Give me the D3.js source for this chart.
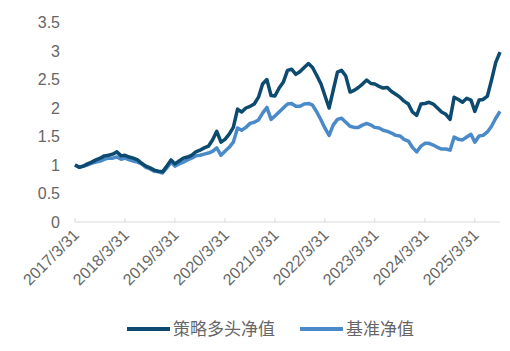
<!DOCTYPE html>
<html>
<head>
<meta charset="utf-8">
<script src="https://cdn.jsdelivr.net/npm/d3@7/dist/d3.min.js"></script>
<style>
  body { margin: 0; background: #fff; }
  svg text { font-family: "Liberation Sans", Arial, "Noto Sans CJK SC", sans-serif; fill: #666; }
  .legend text { font-family: "Noto Sans CJK SC", sans-serif; }
</style>
</head>
<body>
<div id="chart"></div>
<script>
// monthly net values, starting 2017/3/31
const startDate = "2017-03-31";
const strategyNav = [
  1.00, 0.96, 0.98, 1.02, 1.05, 1.09, 1.12, 1.16, 1.17, 1.19, 1.23, 1.16,
  1.17, 1.14, 1.12, 1.09, 1.03, 0.98, 0.95, 0.91, 0.89, 0.88, 0.98, 1.09,
  1.02, 1.07, 1.12, 1.14, 1.17, 1.23, 1.26, 1.30, 1.33, 1.44, 1.59, 1.40,
  1.45, 1.54, 1.66, 1.98, 1.93, 2.00, 2.03, 2.07, 2.19, 2.42, 2.50, 2.22,
  2.21, 2.35, 2.45, 2.66, 2.68, 2.59, 2.64, 2.71, 2.78, 2.71, 2.57, 2.42,
  2.22, 2.00, 2.31, 2.63, 2.66, 2.56, 2.28, 2.31, 2.36, 2.42, 2.49, 2.43,
  2.42, 2.38, 2.35, 2.36, 2.29, 2.24, 2.19, 2.12, 2.07, 1.93, 1.87, 2.07,
  2.08, 2.10, 2.07, 2.00, 1.93, 1.89, 1.80, 2.19, 2.15, 2.10, 2.17, 2.14,
  1.94, 2.14, 2.15, 2.21, 2.49, 2.80, 2.98
];
const benchmarkNav = [
  1.00, 0.96, 0.98, 1.00, 1.03, 1.05, 1.07, 1.10, 1.12, 1.12, 1.14, 1.10,
  1.12, 1.09, 1.07, 1.05, 1.02, 0.96, 0.93, 0.89, 0.88, 0.86, 0.95, 1.05,
  0.98, 1.02, 1.05, 1.09, 1.12, 1.16, 1.17, 1.19, 1.21, 1.24, 1.30, 1.17,
  1.24, 1.31, 1.40, 1.65, 1.61, 1.66, 1.73, 1.75, 1.79, 1.91, 2.01, 1.80,
  1.86, 1.93, 2.00, 2.07, 2.08, 2.03, 2.03, 2.07, 2.08, 2.05, 1.93, 1.79,
  1.65, 1.52, 1.70, 1.80, 1.82, 1.75, 1.68, 1.66, 1.66, 1.70, 1.73, 1.70,
  1.66, 1.65, 1.61, 1.59, 1.56, 1.52, 1.51, 1.45, 1.42, 1.31, 1.23, 1.33,
  1.38, 1.38, 1.35, 1.31, 1.28, 1.28, 1.26, 1.49, 1.45, 1.44, 1.49, 1.54,
  1.40, 1.51, 1.52, 1.58, 1.68, 1.82, 1.94
];
const tickLabels = ["2017/3/31", "2018/3/31", "2019/3/31", "2020/3/31", "2021/3/31",
  "2022/3/31", "2023/3/31", "2024/3/31", "2025/3/31"];
const yTicks = [0, 0.5, 1, 1.5, 2, 2.5, 3, 3.5];
const seriesNames = ["策略多头净值", "基准净值"];
const colors = ["#0c4a70", "#4a8ac9"];

const width = 510, height = 351;
const parse = d3.timeParse("%Y/%m/%d");
const t0 = d3.timeParse("%Y-%m-%d")(startDate);
const dates = strategyNav.map((d, i) => d3.timeMonth.offset(t0, i));

const x = d3.scaleTime()
  .domain([t0, d3.timeMonth.offset(t0, 102)])
  .range([75, 500]);
const y = d3.scaleLinear().domain([0, 3.5]).range([222, 22.5]);

const svg = d3.select("#chart").append("svg")
  .attr("width", width)
  .attr("height", height);

// y labels, no axis line
svg.append("g")
  .selectAll("text")
  .data(yTicks)
  .join("text")
  .attr("x", 60)
  .attr("y", d => y(d))
  .attr("dy", "0.36em")
  .attr("text-anchor", "end")
  .attr("font-size", 16)
  .text(d => d);

// x axis
const xg = svg.append("g");
xg.append("line")
  .attr("x1", 75).attr("x2", 500)
  .attr("y1", y(0)).attr("y2", y(0))
  .attr("stroke", "#d9d9d9");
const tickDates = tickLabels.map(parse);
xg.selectAll(".tick")
  .data(tickDates)
  .join("line")
  .attr("class", "tick")
  .attr("x1", d => x(d)).attr("x2", d => x(d))
  .attr("y1", y(0)).attr("y2", y(0) - 4)
  .attr("stroke", "#d9d9d9");
xg.selectAll(".lab")
  .data(tickLabels)
  .join("text")
  .attr("class", "lab")
  .attr("font-size", 16)
  .attr("text-anchor", "end")
  .attr("transform", d => `translate(${x(parse(d)) + 5},${y(0) + 14}) rotate(-45)`)
  .text(d => d);

const line = d3.line()
  .x((d, i) => x(dates[i]))
  .y(d => y(d));

svg.append("path")
  .datum(benchmarkNav)
  .attr("fill", "none")
  .attr("stroke", colors[1])
  .attr("stroke-width", 3.5)
  .attr("stroke-linejoin", "round")
  .attr("d", line);

svg.append("path")
  .datum(strategyNav)
  .attr("fill", "none")
  .attr("stroke", colors[0])
  .attr("stroke-width", 3.5)
  .attr("stroke-linejoin", "round")
  .attr("d", line);

// legend
const legend = svg.append("g").attr("class", "legend");
const legX = [127, 300];
seriesNames.forEach((name, i) => {
  legend.append("line")
    .attr("x1", legX[i]).attr("x2", legX[i] + 43)
    .attr("y1", 329).attr("y2", 329)
    .attr("stroke", colors[i])
    .attr("stroke-width", 4);
  legend.append("text")
    .attr("x", legX[i] + 46)
    .attr("y", 329)
    .attr("dy", "0.36em")
    .attr("font-size", 17)
    .text(name);
});
</script>
</body>
</html>
